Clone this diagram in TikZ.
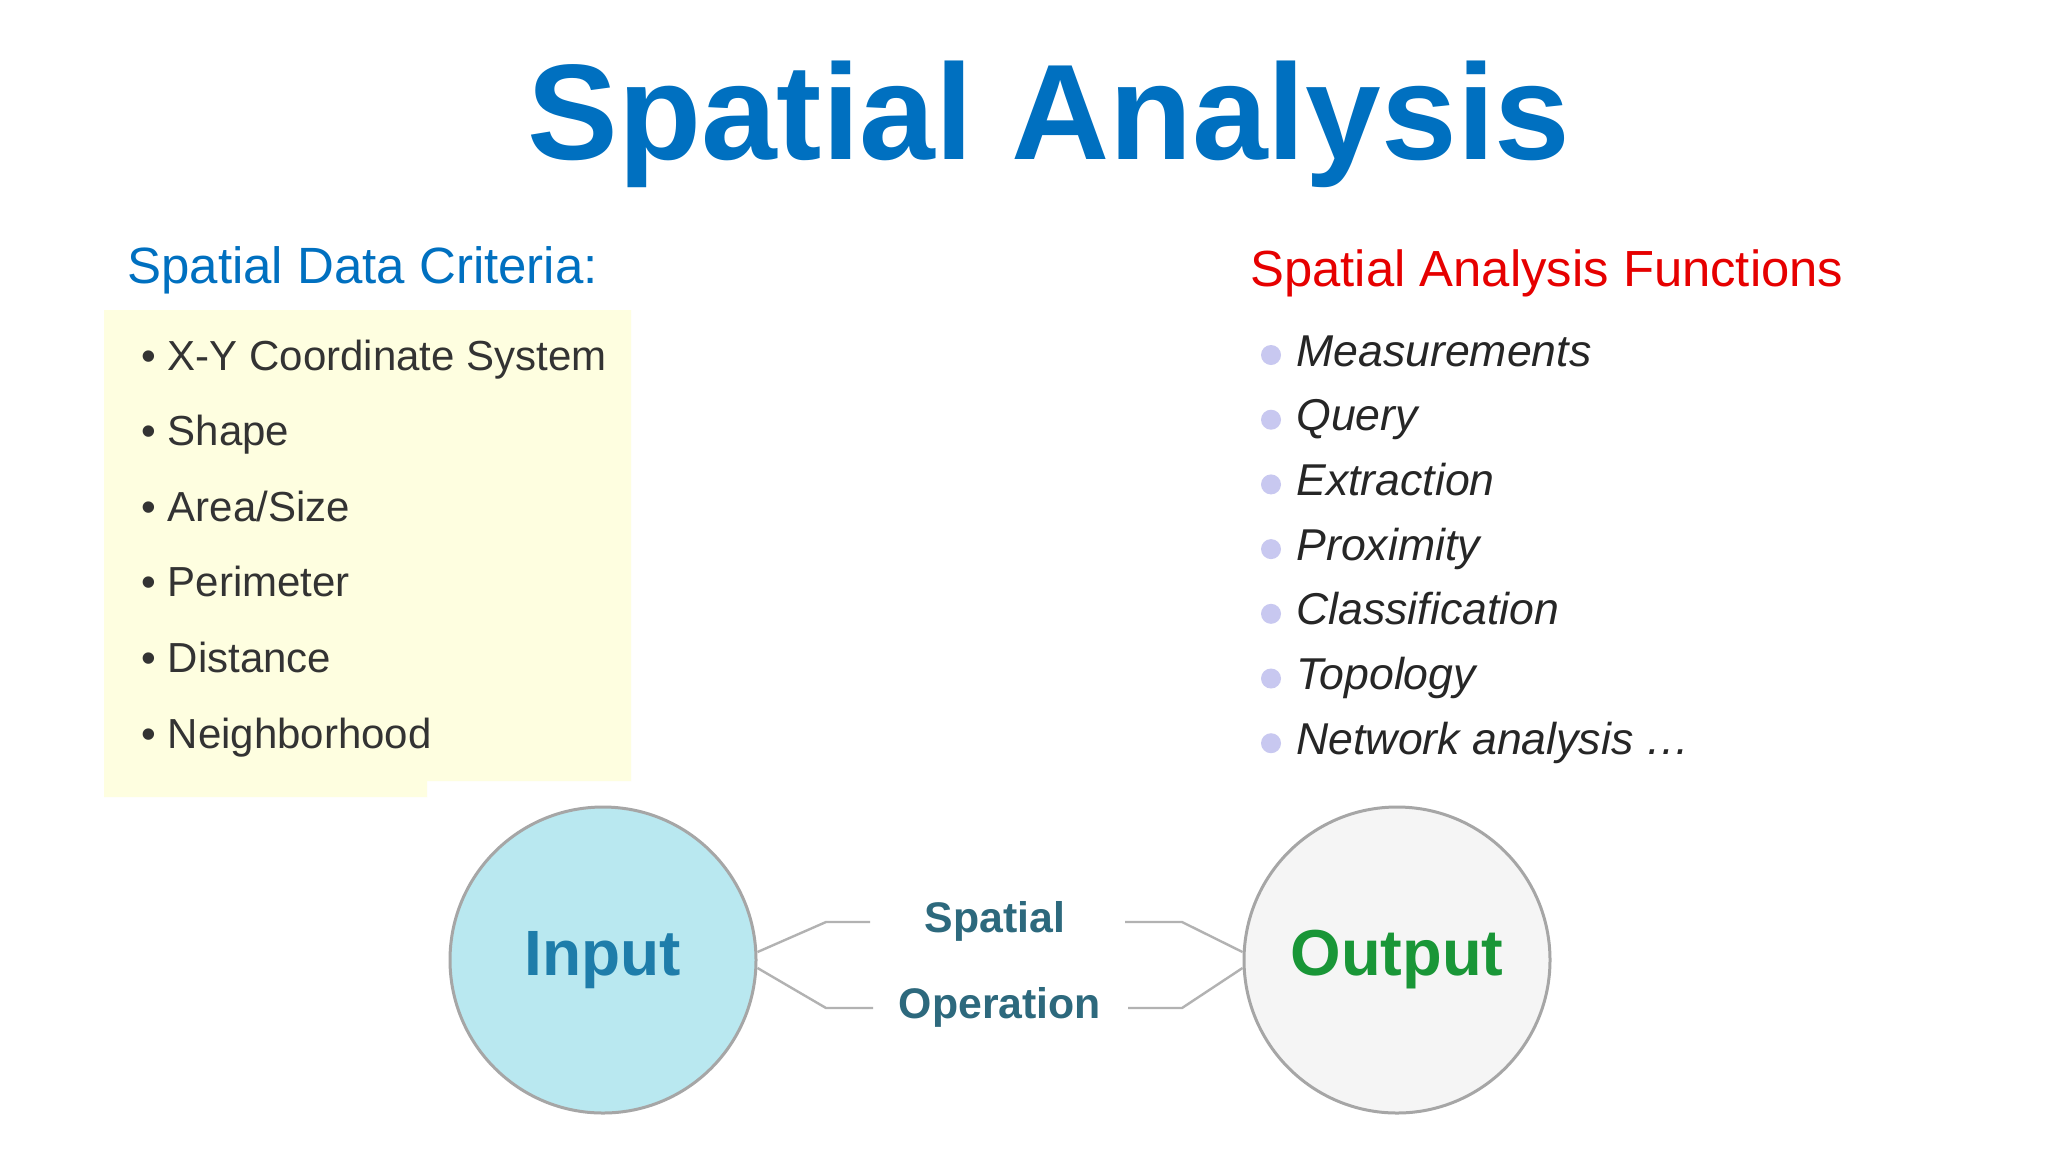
\documentclass[tikz,border=0pt]{standalone}
\usepackage{fontspec}
\setmainfont{Liberation Sans}
\definecolor{tblue}{RGB}{0,112,192}
\definecolor{byel}{RGB}{254,254,224}
\definecolor{tred}{RGB}{230,0,0}
\definecolor{infill}{RGB}{185,232,240}
\definecolor{intext}{RGB}{30,125,170}
\definecolor{outtext}{RGB}{25,150,55}
\definecolor{optext}{RGB}{45,105,125}
\definecolor{dotc}{RGB}{200,200,240}
\begin{document}
\begin{tikzpicture}[x=0.5pt,y=-0.5pt,
  crit/.style={anchor=west,text=black!80,font=\fontsize{21}{25}\selectfont,inner sep=0,text height=15pt,text depth=5pt},
  func/.style={anchor=west,text=black!85,font=\fontsize{22.3}{27}\selectfont\itshape,inner sep=0,text height=16pt,text depth=5pt},
  fdot/.style={circle,fill=dotc,minimum size=10pt,inner sep=0},
  conn/.style={draw=gray!60,line width=1.2pt},
  opt/.style={text=optext,font=\fontsize{21.4}{26}\selectfont\bfseries}]
\useasboundingbox (0,0) rectangle (2048,1152);
\fill[white] (0,0) rectangle (2048,1152);
\node[text=tblue,font=\fontsize{68}{80}\selectfont\bfseries] (title) at (1049,124) {Spatial Analysis};
\node[anchor=west,text=tblue,font=\fontsize{25.5}{30}\selectfont,inner sep=0] (lh) at (127,270) {Spatial Data Criteria:};
\fill[byel] (104,310) rectangle (631,781) (104,781) rectangle (427,797);
\foreach \t [count=\i] in {X-Y Coordinate System,Shape,Area/Size,Perimeter,Distance,Neighborhood}{
  \node[crit] (c\i) at (141,{360+75.6*(\i-1)}) {\textbullet\ \t};
}
\node[anchor=west,text=tred,font=\fontsize{25.4}{30}\selectfont,inner sep=0] (rh) at (1250,273) {Spatial Analysis Functions};
\foreach \t [count=\i] in {Measurements,Query,Extraction,Proximity,Classification,Topology,Network analysis \dots}{
  \node[fdot] (d\i) at (1271,{355+64.7*(\i-1)}) {};
  \node[func] (f\i) at (1296,{355+64.7*(\i-1)}) {\t};
}
\node[circle,minimum size=153pt,draw=gray!70,line width=1.5pt,fill=infill,
  text=intext,font=\fontsize{32}{38}\selectfont\bfseries] (in) at (603,960) {Input};
\node[circle,minimum size=153pt,draw=gray!70,line width=1.5pt,fill=gray!8,
  text=outtext,font=\fontsize{32.5}{38}\selectfont\bfseries] (out) at (1397,960) {Output};
\node[opt] (sp) at (995,921) {Spatial};
\node[opt] (op) at (1000,1007) {Operation};
\coordinate (a1) at (826,922); \coordinate (a2) at (870,922);
\coordinate (b1) at (826,1008); \coordinate (b2) at (873,1008);
\coordinate (e1) at (1125,922); \coordinate (e2) at (1182,922);
\coordinate (g1) at (1128,1008); \coordinate (g2) at (1182,1008);
\draw[conn] ([yshift=4pt]in.east) -- (a1) -- (a2);
\draw[conn] ([yshift=-4pt]in.east) -- (b1) -- (b2);
\draw[conn] (e1) -- (e2) -- ([yshift=4pt]out.west);
\draw[conn] (g1) -- (g2) -- ([yshift=-4pt]out.west);
\end{tikzpicture}
\end{document}
